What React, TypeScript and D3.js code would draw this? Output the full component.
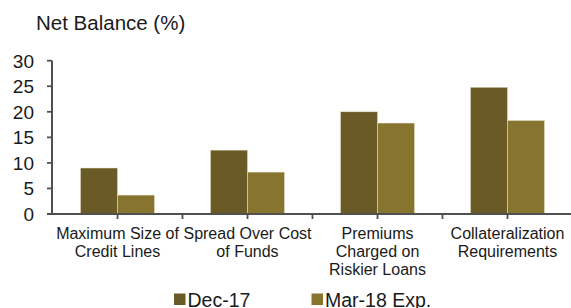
import React from "react";
import * as d3 from "d3";

const categories: string[][] = [
  ["Maximum Size of", "Credit Lines"],
  ["Spread Over Cost", "of Funds"],
  ["Premiums", "Charged on", "Riskier Loans"],
  ["Collateralization", "Requirements"],
];
const seriesNames = ["Dec-17", "Mar-18 Exp."];
const dec17 = [9, 12.5, 20, 24.8];
const mar18 = [3.7, 8.2, 17.8, 18.3];
const yTicks = [0, 5, 10, 15, 20, 25, 30];
const colors = ["#6a5b26", "#86742f"];

const W = 571;
const H = 308;
const FONT = "'Liberation Sans', Arial, sans-serif";

export default function App() {
  const keys = categories.map((_, i) => String(i));
  const x0 = d3.scaleBand<string>().domain(keys).range([52.5, 572.5]).paddingInner(0).paddingOuter(0);
  const x1 = d3
    .scaleBand<string>()
    .domain(seriesNames)
    .range([0, x0.bandwidth()])
    .paddingInner(0)
    .paddingOuter(0.757);
  const y = d3.scaleLinear().domain([0, 30]).range([214, 60.7]);
  const values = [dec17, mar18];
  const axisColor = "#505050";

  const xTickPositions: number[] = [];
  keys.forEach((k, i) => {
    const s = x0(k)!;
    if (i > 0) xTickPositions.push(s);
    xTickPositions.push(s + x0.bandwidth() / 2);
  });

  return (
    <svg width={W} height={H} style={{ position: "absolute", left: 0, top: 0 }} fontFamily={FONT}>
      <rect width={W} height={H} fill="#fff" />
      <text x={36} y={29.5} fontSize={20.5} fill="#1a1a1a">
        Net Balance (%)
      </text>
      {/* bars */}
      {keys.map((k, i) => (
        <g key={k} transform={`translate(${x0(k)},0)`}>
          {seriesNames.map((s, j) => (
            <rect
              key={s}
              x={x1(s)!}
              y={y(values[j][i])}
              width={x1.bandwidth()}
              height={y(0) - y(values[j][i])}
              fill={colors[j]}
              stroke="#e8e2c8"
              strokeWidth={0.5}
            />
          ))}
        </g>
      ))}
      {/* y axis */}
      <line x1={52} x2={52} y1={y(30)} y2={y(0)} stroke={axisColor} strokeWidth={2} />
      {yTicks.map((t) => (
        <g key={t}>
          <line x1={47} x2={52} y1={y(t)} y2={y(t)} stroke={axisColor} strokeWidth={1.8} />
          <text x={34} y={y(t) + 6.8} fontSize={19} textAnchor="end" fill="#1a1a1a">
            {t}
          </text>
        </g>
      ))}
      {/* x axis */}
      <line x1={47} x2={W} y1={y(0)} y2={y(0)} stroke={axisColor} strokeWidth={2} />
      {xTickPositions.map((p, i) => (
        <line key={i} x1={p} x2={p} y1={y(0)} y2={y(0) + 5} stroke={axisColor} strokeWidth={1.8} />
      ))}
      {categories.map((lines, i) => (
        <text key={i} fontSize={16} textAnchor="middle" fill="#1a1a1a">
          {lines.map((l, li) => (
            <tspan key={li} x={x0(keys[i])! + x0.bandwidth() / 2} y={239.3 + li * 18}>
              {l}
            </tspan>
          ))}
        </text>
      ))}
      {/* legend */}
      {seriesNames.map((s, j) => {
        const lx = [174, 311.5][j];
        return (
          <g key={s}>
            <rect x={lx} y={293.5} width={11.5} height={11.5} fill={colors[j]} />
            <text x={lx + 13.5} y={306.5} fontSize={19.5} fill="#1a1a1a">
              {s}
            </text>
          </g>
        );
      })}
    </svg>
  );
}
